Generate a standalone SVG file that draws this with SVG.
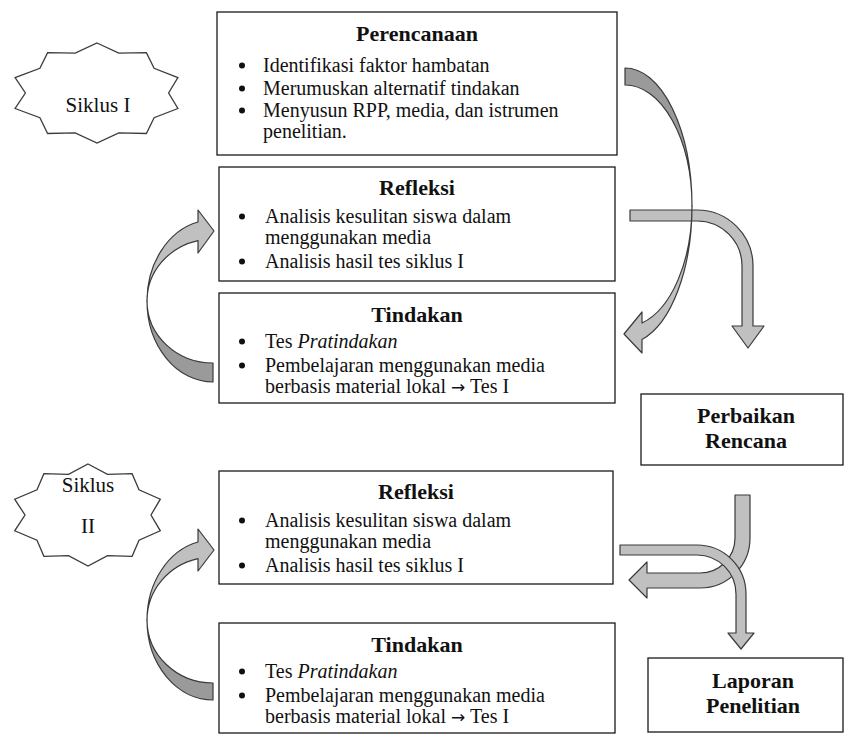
<svg xmlns="http://www.w3.org/2000/svg" width="846" height="734" viewBox="0 0 846 734">
<style>
.box{fill:#fff;stroke:#1a1a1a;stroke-width:1.3}
.star{fill:#fff;stroke:#3c3c3c;stroke-width:1.3;stroke-linejoin:miter}
.t{font-family:"Liberation Serif","Times New Roman",serif;font-size:20px;fill:#111}
.bul{fill:#111}
.ar{font-family:"DejaVu Sans",sans-serif;font-size:17px}
.h{font-family:"Liberation Serif","Times New Roman",serif;font-size:22px;font-weight:bold;fill:#111;text-anchor:middle}
.s{font-family:"Liberation Serif","Times New Roman",serif;font-size:21px;fill:#111;text-anchor:middle}
.light{fill:#c0c0c0;stroke:#3a3a3a;stroke-width:1.2;stroke-linejoin:round}
.dark{fill:#9a9a9a;stroke:#3a3a3a;stroke-width:1.2;stroke-linejoin:round}
</style>
<rect width="846" height="734" fill="#fff"/>

<g id="siklus1">
<polygon class="star" points="97,43 118.8,53.1 146.4,52.6 154.1,68.3 177.9,77.6 168.6,93 177.9,108.5 154.1,117.7 146.4,133.5 118.8,132.9 97,143 75.2,132.9 47.6,133.5 39.9,117.7 15.1,108.5 25.4,93 15.1,77.6 39.9,68.3 47.6,52.6 75.2,53.1"/>
<text class="s" x="98" y="112">Siklus I</text>
</g>

<g id="siklus2">
<polygon class="star" points="88,464 107.5,474.3 132.1,473.7 139,489.8 160.3,499.2 151,515 160.3,530.8 139,540.2 132.1,556.3 107.5,555.7 88,566 68.5,555.7 43.9,556.3 37,540.2 14.7,530.8 25,515 14.7,499.2 37,489.8 43.9,473.7 68.5,474.3"/>
<text class="s" x="88" y="492">Siklus</text>
<text class="s" x="88" y="533">II</text>
</g>

<g id="perencanaan">
<rect class="box" x="217" y="12" width="400" height="143"/>
<text class="h" x="417" y="41">Perencanaan</text>
<circle class="bul" cx="242" cy="65.5" r="3"/>
<circle class="bul" cx="242" cy="88.5" r="3"/>
<circle class="bul" cx="242" cy="110.5" r="3"/>
<text class="t" x="263" y="72">Identifikasi faktor hambatan</text>
<text class="t" x="263" y="95">Merumuskan alternatif tindakan</text>
<text class="t" x="263" y="117">Menyusun RPP, media, dan istrumen</text>
<text class="t" x="263" y="138">penelitian.</text>
</g>

<g id="refleksi1">
<rect class="box" x="219" y="167" width="396" height="114"/>
<text class="h" x="417" y="195">Refleksi</text>
<circle class="bul" cx="242" cy="216.5" r="3"/>
<circle class="bul" cx="242" cy="261.5" r="3"/>
<text class="t" x="265" y="223">Analisis kesulitan siswa dalam</text>
<text class="t" x="265" y="244">menggunakan media</text>
<text class="t" x="265" y="268">Analisis hasil tes siklus I</text>
</g>

<g id="tindakan1">
<rect class="box" x="219" y="293" width="396" height="110"/>
<text class="h" x="417" y="322">Tindakan</text>
<circle class="bul" cx="242" cy="341.5" r="3"/>
<circle class="bul" cx="242" cy="365.5" r="3"/>
<text class="t" x="265" y="348">Tes <tspan font-style="italic">Pratindakan</tspan></text>
<text class="t" x="265" y="372">Pembelajaran menggunakan media</text>
<text class="t" x="265" y="393">berbasis material lokal <tspan class="ar">→</tspan> Tes I</text>
</g>

<g id="perbaikan">
<rect class="box" x="641" y="394" width="202" height="71"/>
<text class="h" x="746" y="423">Perbaikan</text>
<text class="h" x="746" y="448">Rencana</text>
</g>

<g id="refleksi2">
<rect class="box" x="219" y="471" width="394" height="113"/>
<text class="h" x="416" y="499">Refleksi</text>
<circle class="bul" cx="242" cy="520.5" r="3"/>
<circle class="bul" cx="242" cy="565.5" r="3"/>
<text class="t" x="265" y="527">Analisis kesulitan siswa dalam</text>
<text class="t" x="265" y="548">menggunakan media</text>
<text class="t" x="265" y="572">Analisis hasil tes siklus I</text>
</g>

<g id="tindakan2">
<rect class="box" x="219" y="623" width="396" height="110"/>
<text class="h" x="417" y="652">Tindakan</text>
<circle class="bul" cx="242" cy="671.5" r="3"/>
<circle class="bul" cx="242" cy="695.5" r="3"/>
<text class="t" x="265" y="678">Tes <tspan font-style="italic">Pratindakan</tspan></text>
<text class="t" x="265" y="702">Pembelajaran menggunakan media</text>
<text class="t" x="265" y="723">berbasis material lokal <tspan class="ar">→</tspan> Tes I</text>
</g>

<g id="laporan">
<rect class="box" x="648" y="658" width="195" height="74"/>
<text class="h" x="753" y="688">Laporan</text>
<text class="h" x="753" y="713">Penelitian</text>
</g>

<g id="connectors">
<path class="dark" d="M213,382 A66,81 0 0,1 147,301 A66,62 0 0,0 213,363 Z"/>
<path class="light" d="M147,301 A66,81 0 0,1 198,222 L198,210 L214,231 L198,253 L198,240.6 A66,62 0 0,0 147,301 Z"/>
<path class="dark" d="M213,700 A66,80 0 0,1 147,620 A66,63 0 0,0 213,683 Z"/>
<path class="light" d="M147,620 A66,80 0 0,1 198,542 L198,529 L214,550 L198,571 L198,558.6 A66,63 0 0,0 147,620 Z"/>
<path class="light" d="M630,210 L697,210 A56,56 0 0,1 753,266 L753,326 L764,326 L748,348 L732,326 L742,326 L742,266 A45,45 0 0,0 697,221 L630,221 Z"/>
<path class="dark" d="M625,68 A67,138 0 0,1 692,206 A67,121 0 0,0 625,85 Z"/>
<path class="light" d="M692,206 A67,138 0 0,1 642,339.5 L642,353 L624,334 L642,312 L642,323 A67,121 0 0,0 692,206 Z"/>
<path class="light" d="M735,495 L750,495 L750,538 A50,50 0 0,1 700,588 L647,588 L647,598 L629,580 L647,562 L647,573 L700,573 A35,35 0 0,0 735,538 Z"/>
<path class="light" d="M620,545 L697,545 A49,49 0 0,1 746,594 L746,633 L754,633 L741,649 L728,633 L736,633 L736,594 A39,39 0 0,0 697,555 L620,555 Z"/>
</g>
</svg>
